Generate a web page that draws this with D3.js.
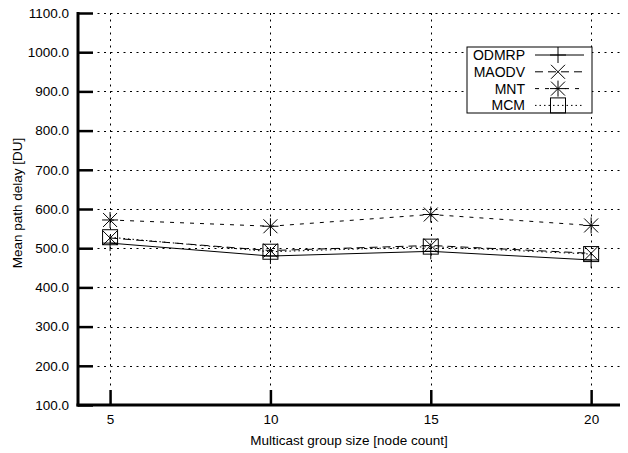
<!DOCTYPE html>
<html>
<head>
<meta charset="utf-8">
<script src="https://cdn.jsdelivr.net/npm/d3@7"></script>
<style>
  body { margin: 0; background: #fff; }
  svg { display: block; font-family: "Liberation Sans", Arial, sans-serif; }
</style>
</head>
<body>
<div id="chart"></div>
<script>
// --- Data ---
const groupSizes = [5, 10, 15, 20];
const odmrp = [513, 480, 492, 470];
const maodv = [526, 494, 507, 487];
const mnt   = [572, 556, 586, 558];
const mcm   = [528, 491, 504, 485];
const yTicks = [100, 200, 300, 400, 500, 600, 700, 800, 900, 1000, 1100];

const series = [
    { name: "ODMRP", values: odmrp, dash: null,  marker: "plus" },
    { name: "MAODV", values: maodv, dash: "8,5", marker: "cross" },
    { name: "MNT",   values: mnt,   dash: "4,6", marker: "star" },
    { name: "MCM",   values: mcm,   dash: "1.5,3", marker: "square" }
];

// --- Setup ---
const W = 628, H = 453;
const plotL = 78, plotR = 620, plotT = 13, plotB = 405;

const svg = d3.select("#chart").append("svg")
    .attr("width", W)
    .attr("height", H);

const x = d3.scaleLinear().domain([4, 20.9]).range([plotL, plotR]);
const y = d3.scaleLinear().domain([100, 1100]).range([plotB, plotT]);

// grid lines
const grid = svg.append("g")
    .attr("stroke", "#000")
    .attr("stroke-width", 1)
    .attr("stroke-dasharray", "2,4.5");
grid.selectAll("line.h")
    .data(yTicks.slice(1))
    .join("line")
    .attr("class", "h")
    .attr("x1", plotL).attr("x2", plotR)
    .attr("y1", d => Math.round(y(d)) + 0.5).attr("y2", d => Math.round(y(d)) + 0.5);
grid.selectAll("line.v")
    .data(groupSizes)
    .join("line")
    .attr("class", "v")
    .attr("x1", d => Math.round(x(d)) + 0.5).attr("x2", d => Math.round(x(d)) + 0.5)
    .attr("y1", plotT).attr("y2", plotB);

// axes (ticks pointing inward)
const yAxis = svg.append("g")
    .attr("transform", `translate(${plotL},0)`)
    .call(d3.axisLeft(y).tickValues(yTicks).tickFormat(d3.format(".1f"))
        .tickSizeInner(-15).tickSizeOuter(0).tickPadding(9));
const xAxis = svg.append("g")
    .attr("transform", `translate(0,${plotB})`)
    .call(d3.axisBottom(x).tickValues(groupSizes)
        .tickSizeInner(-15).tickSizeOuter(0).tickPadding(9));

[yAxis, xAxis].forEach(a => {
    a.select(".domain").remove();
    a.selectAll(".tick line").attr("stroke", "#000").attr("stroke-width", 2.5);
    a.selectAll(".tick text")
        .attr("fill", "#000")
        .style("font-family", "'Liberation Sans', Arial, sans-serif")
        .style("font-size", "13.5px");
});

svg.append("line")
    .attr("x1", plotL).attr("x2", plotL).attr("y1", plotT - 1).attr("y2", plotB + 1.5)
    .attr("stroke", "#000").attr("stroke-width", 3);
svg.append("line")
    .attr("x1", plotL - 1.5).attr("x2", plotR).attr("y1", plotB).attr("y2", plotB)
    .attr("stroke", "#000").attr("stroke-width", 3);

// axis titles
svg.append("text")
    .attr("x", 349).attr("y", 445)
    .attr("text-anchor", "middle")
    .style("font-size", "13.5px")
    .text("Multicast group size [node count]");
svg.append("text")
    .attr("transform", "translate(22,203) rotate(-90)")
    .attr("text-anchor", "middle")
    .style("font-size", "13.5px")
    .text("Mean path delay [DU]");

// marker drawing
function drawMarker(g, type, cx, cy) {
    const s = 8, c = 7;
    const m = g.append("g").attr("stroke", "#000").attr("stroke-width", 1).attr("fill", "none");
    if (type === "plus" || type === "star") {
        m.append("line").attr("x1", cx - s).attr("x2", cx + s).attr("y1", cy).attr("y2", cy);
        m.append("line").attr("x1", cx).attr("x2", cx).attr("y1", cy - s).attr("y2", cy + s);
    }
    if (type === "cross" || type === "star") {
        m.append("line").attr("x1", cx - c).attr("x2", cx + c).attr("y1", cy - c).attr("y2", cy + c);
        m.append("line").attr("x1", cx - c).attr("x2", cx + c).attr("y1", cy + c).attr("y2", cy - c);
    }
    if (type === "square") {
        m.append("rect").attr("x", cx - 7.5).attr("y", cy - 7.5).attr("width", 15).attr("height", 15);
    }
}

// series lines + markers
const line = d3.line()
    .x(d => x(d[0]))
    .y(d => y(d[1]));

const plot = svg.append("g");
series.forEach(s => {
    const pts = groupSizes.map((g, i) => [g, s.values[i]]);
    plot.append("path")
        .datum(pts)
        .attr("d", line)
        .attr("fill", "none")
        .attr("stroke", "#000")
        .attr("stroke-width", 1)
        .attr("stroke-dasharray", s.dash);
    pts.forEach(p => drawMarker(plot, s.marker, x(p[0]), y(p[1])));
});

// legend
const lg = svg.append("g");
lg.append("rect")
    .attr("x", 467).attr("y", 47)
    .attr("width", 125).attr("height", 66)
    .attr("fill", "#fff").attr("stroke", "#000").attr("stroke-width", 1);
series.forEach((s, i) => {
    const ly = 55 + i * 16.8;
    lg.append("text")
        .attr("x", 525).attr("y", ly + 5)
        .attr("text-anchor", "end")
        .style("font-size", "14px")
        .text(s.name);
    lg.append("line")
        .attr("x1", 535).attr("x2", 584).attr("y1", ly).attr("y2", ly)
        .attr("stroke", "#000").attr("stroke-width", 1)
        .attr("stroke-dasharray", s.dash);
    drawMarker(lg, s.marker, 558, ly);
});
</script>
</body>
</html>
